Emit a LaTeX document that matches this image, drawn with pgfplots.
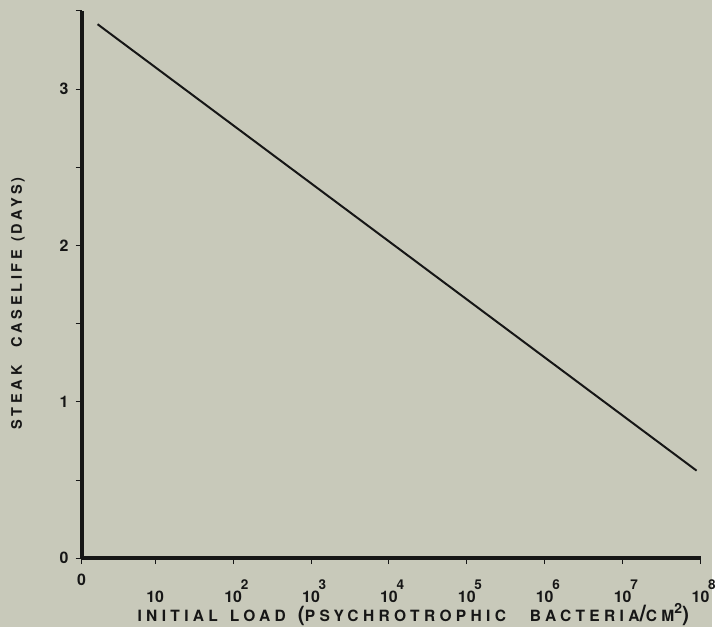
\documentclass[border=0pt]{standalone}
\usepackage{fontspec}
\setmainfont{TeX Gyre Heros}
\newfontfamily\spaced[LetterSpace=26]{TeX Gyre Heros}
\newfontfamily\spacedx[LetterSpace=28]{TeX Gyre Heros}
\usepackage{pgfplots}
\pgfplotsset{compat=1.18}
\definecolor{bg}{RGB}{200,201,186}
\definecolor{ink}{RGB}{22,22,22}
\newcommand{\tl}[1]{10\makebox[0pt][l]{\hspace{-0.6pt}\raisebox{6.5pt}{\fontsize{6.8}{7}\selectfont #1}}}
\begin{document}
\begin{tikzpicture}
\fill[bg] (0,0) rectangle (358pt,315pt);
\begin{axis}[
  at={(41pt,34.5pt)}, anchor=south west,
  scale only axis, width=311pt, height=275pt,
  xmin=0.055, xmax=8, ymin=0, ymax=3.5,
  axis lines=left,
  axis line style={-, line width=2pt, ink},
  tick align=outside,
  tick style={ink, line width=0.5pt},
  major tick length=3pt, minor tick length=3pt,
  /pgf/number format/assume math mode=true,
  xtick={0.055,1,2,3,4,5,6,7,8},
  xticklabels={\raisebox{8.5pt}{0},10,\tl{2},\tl{3},\tl{4},\tl{5},\tl{6},\tl{7},\tl{8}},
  xticklabel style={anchor=base, yshift=-19pt, font=\bfseries\fontsize{8}{9}\selectfont, text=ink},
  ytick={0,1,2,3},
  minor ytick={0.5,1.5,2.5,3.5},
  yticklabel style={font=\bfseries\fontsize{8}{9}\selectfont, text=ink},
  xlabel={\spacedx INITIAL\hspace{6pt}LOAD\hspace{6pt}{\fontsize{10.5}{10}\selectfont(}PSYCHROTROPHIC\hspace{12pt}BACTERIA{\fontsize{11.5}{11}\selectfont/}CM\raisebox{4pt}{\fontsize{7}{7}\selectfont 2}{\fontsize{10.5}{10}\selectfont)}},
  xlabel style={at={(axis description cs:0.536,-0.116)}, anchor=base, font=\bfseries\fontsize{7.8}{8}\selectfont, text=ink},
  ylabel={\spaced STEAK\hspace{9pt}CASELIFE\hspace{4pt}(\,DAYS\,)},
  ylabel style={at={(axis description cs:-0.103,0.465)}, rotate=0, anchor=center, font=\bfseries\fontsize{7.3}{8}\selectfont, text=ink},
]
\addplot[ink, line width=1pt] coordinates {(0.26,3.415) (7.95,0.56)};
\end{axis}
\end{tikzpicture}
\end{document}
